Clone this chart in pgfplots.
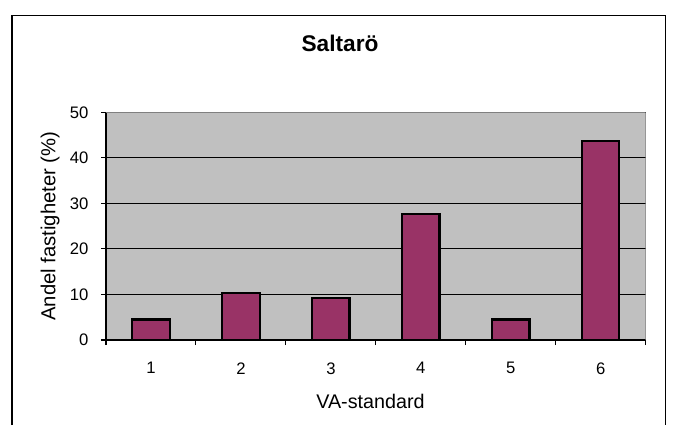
\documentclass[border=0pt]{standalone}
\usepackage{fontspec}
\setmainfont{Liberation Sans}
\usepackage{pgfplots}
\pgfplotsset{compat=1.18}

\definecolor{plotgray}{HTML}{C0C0C0}
\definecolor{bordergray}{HTML}{808080}
\definecolor{barcol}{HTML}{993366}

\begin{document}
\begin{tikzpicture}
% page area and chart frame (open at the bottom)
\useasboundingbox (0,0) rectangle (504.75pt,-318.75pt);
\draw[line width=0.8pt] (9pt,-318.75pt) -- (9pt,-11.5pt) -- (499.3pt,-11.5pt) -- (499.3pt,-318.75pt);

\begin{axis}[
  at={(79.5pt,-255pt)}, anchor=south west,
  scale only axis, width=404.8pt, height=170.8pt,
  xmin=0.5, xmax=6.5, ymin=0, ymax=50,
  axis background/.style={fill=plotgray},
  axis x line*=bottom, axis y line*=left,
  axis line style={black, line width=0.8pt, -},
  xtick={1,2,3,4,5,6},
  minor xtick={0.5,1.5,2.5,3.5,4.5,5.5,6.5},
  ytick={0,10,20,30,40,50},
  tick align=outside,
  major tick length=3.75pt, minor tick length=3.75pt,
  major x tick style={draw=none},
  minor x tick style={black, line width=0.8pt},
  major y tick style={black, line width=0.8pt},
  ymajorgrids, major grid style={black, line width=0.7pt},
  /pgf/number format/assume math mode=true,
  ticklabel style={font=\fontsize{12.5}{14}\selectfont},
  xticklabel style={yshift=-9.5pt},
  yticklabel style={xshift=-6pt},
  title={Saltarö},
  title style={at={(axis description cs:0.4336,1.2736)}, anchor=base, yshift=-7.5pt,
    font=\bfseries\fontsize{17}{19}\selectfont},
  xlabel={VA-standard},
  xlabel style={at={(axis description cs:0.49,-0.30)}, anchor=base,
    font=\fontsize{14.8}{17}\selectfont},
  ylabel={Andel fastigheter (\%)},
  ylabel style={at={(axis description cs:-0.0936,0.5)}, anchor=base,
    font=\fontsize{15.2}{17}\selectfont},
]
% gray border on the top and right of the plot area
\draw[bordergray, line width=1.1pt] (rel axis cs:0,1) -- (rel axis cs:1,1) -- (rel axis cs:1,0);
\addplot[ybar, bar width=0.415, fill=barcol, draw=black, line width=1.6pt]
  coordinates {(1,4.5) (2,10.3) (3,9.2) (4,27.6) (5,4.5) (6,43.7)};
\end{axis}
\end{tikzpicture}
\end{document}
